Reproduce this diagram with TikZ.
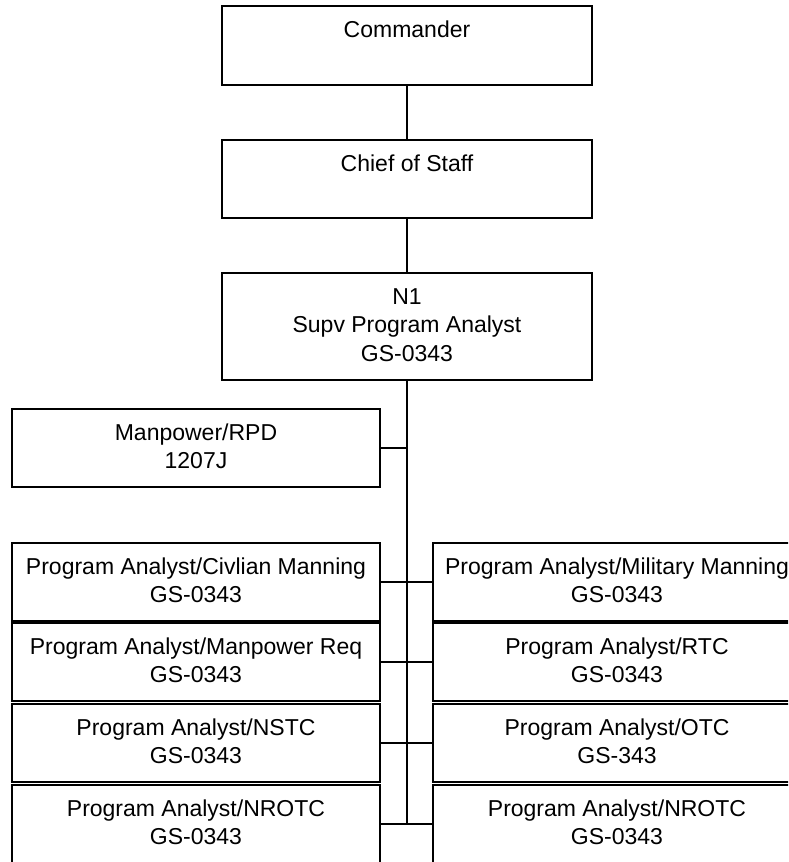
\documentclass[tikz,border=0pt]{standalone}
\usepackage{fontspec}
\setmainfont{Liberation Sans}

% Top-aligned, centred text block of fixed height and width
\newcommand\cellin[3]{\parbox[c][#1][t]{#2}{\centering\baselineskip=28.5pt\rule{0pt}{31pt}#3\par}}

\tikzset{
  orgbox/.style={draw, line width=1.8pt, inner sep=0pt, outer sep=0pt, anchor=north west,
                 font=\fontsize{23}{28.5}\selectfont},
  link/.style={line width=1.8pt}
}

\begin{document}
\begin{tikzpicture}[x=1pt, y=-1pt]
  \useasboundingbox (0,0) rectangle (788,862);
  \clip (0,0) rectangle (788,862);

  % chain of command
  \node[orgbox] (cmd) at (222,6)   {\cellin{79pt}{370pt}{Commander}};
  \node[orgbox] (cos) at (222,140) {\cellin{78pt}{370pt}{Chief of Staff}};
  \node[orgbox] (n1)  at (222,273) {\cellin{107pt}{370pt}{N1\\Supv Program Analyst\\GS-0343}};

  % staff
  \node[orgbox] (mp) at (12,409) {\cellin{78pt}{368pt}{Manpower/RPD\\1207J}};

  % left column
  \node[orgbox] (l1) at (12,543) {\cellin{78pt}{368pt}{Program Analyst/Civlian Manning\\GS-0343}};
  \node[orgbox] (l2) at (12,623) {\cellin{78pt}{368pt}{Program Analyst/Manpower Req\\GS-0343}};
  \node[orgbox] (l3) at (12,704) {\cellin{78pt}{368pt}{Program Analyst/NSTC\\GS-0343}};
  \node[orgbox] (l4) at (12,785) {\cellin{78pt}{368pt}{Program Analyst/NROTC\\GS-0343}};

  % right column
  \node[orgbox] (r1) at (433,543) {\cellin{78pt}{368pt}{Program Analyst/Military Manning\\GS-0343}};
  \node[orgbox] (r2) at (433,623) {\cellin{78pt}{368pt}{Program Analyst/RTC\\GS-0343}};
  \node[orgbox] (r3) at (433,704) {\cellin{78pt}{368pt}{Program Analyst/OTC\\GS-343}};
  \node[orgbox] (r4) at (433,785) {\cellin{78pt}{368pt}{Program Analyst/NROTC\\GS-0343}};

  % connectors
  \draw[link] (cmd.south) -- (cos.north);
  \draw[link] (cos.south) -- (n1.north);
  \coordinate (busend) at (n1.south |- l4.east);
  \draw[link] (n1.south) -- (busend);
  \draw[link] (mp.east) -- (mp.east -| n1.south);
  \draw[link] (l1.east) -- (r1.west);
  \draw[link] (l2.east) -- (r2.west);
  \draw[link] (l3.east) -- (r3.west);
  \draw[link] (l4.east) -- (r4.west);
\end{tikzpicture}
\end{document}
